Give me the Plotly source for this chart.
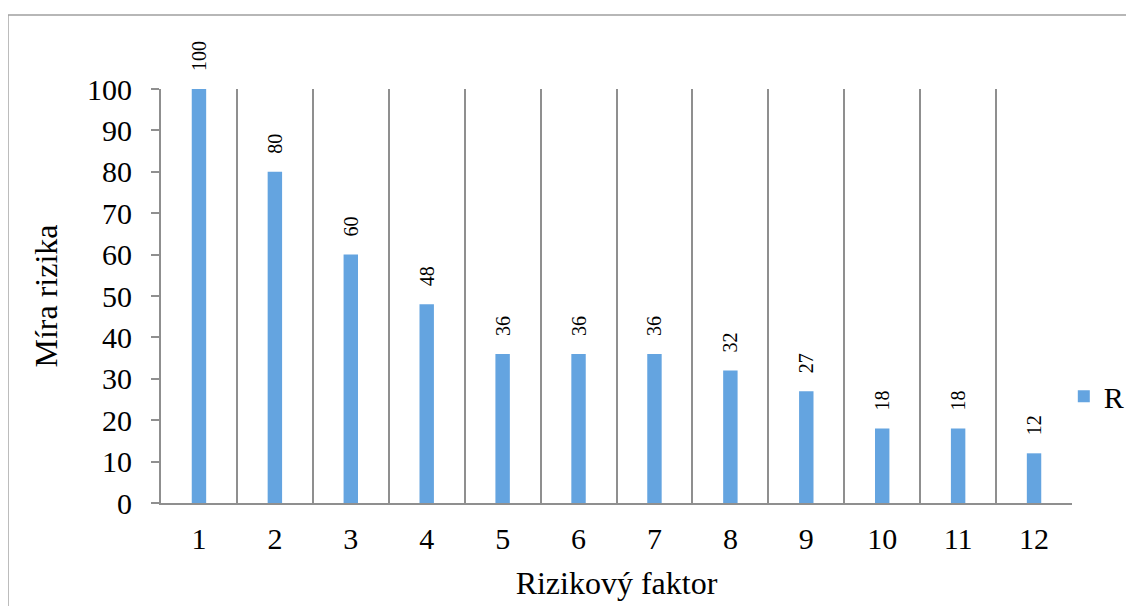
import plotly.graph_objects as go

categories = [1, 2, 3, 4, 5, 6, 7, 8, 9, 10, 11, 12]
values_R = [100, 80, 60, 48, 36, 36, 36, 32, 27, 18, 18, 12]
y_ticks = [0, 10, 20, 30, 40, 50, 60, 70, 80, 90, 100]
boundaries = [c - 0.5 for c in categories] + [categories[-1] + 0.5]

FONT = "Liberation Serif, Times New Roman, serif"
GRID = "#8f8f8f"
FS = 30
FT = 32

fig = go.Figure()
fig.add_trace(go.Bar(
    x=categories, y=values_R, name="R",
    marker=dict(color="#64A4E0", line=dict(width=0)),
    width=0.19,
    text=["\u00a0\u00a0\u00a0" + str(v) for v in values_R],
    textposition="outside", textangle=-90, constraintext="none",
    textfont=dict(family=FONT, size=20, color="black"),
    cliponaxis=False,
))
# invisible trace on overlay axis for category-boundary gridlines
fig.add_trace(go.Scatter(x=boundaries, y=[0]*len(boundaries), xaxis="x2",
                         mode="markers", marker=dict(opacity=0), showlegend=False,
                         hoverinfo="skip"))

rng = [0.5, 12.5]
fig.update_layout(
    width=1126, height=598,
    margin=dict(l=153, r=62, t=81, b=103, autoexpand=False),
    paper_bgcolor="white", plot_bgcolor="white",
    font=dict(family=FONT, color="black"),
    showlegend=True,
    legend=dict(x=0.991, y=0.258, xanchor="left", yanchor="middle",
                font=dict(family=FONT, size=FS), bgcolor="rgba(0,0,0,0)",
                itemwidth=30, tracegroupgap=0),
    xaxis=dict(range=rng, tickvals=categories, ticktext=[str(c) for c in categories],
               showgrid=False, showline=True, linecolor=GRID, linewidth=2,
               ticks="", tickfont=dict(size=FS), zeroline=False, ticklabelstandoff=8,
               title=dict(text="Rizikový faktor", font=dict(size=FT), standoff=18)),
    xaxis2=dict(range=rng, overlaying="x", tickvals=boundaries, showticklabels=False,
                showgrid=True, gridcolor=GRID, gridwidth=2, zeroline=False,
                showline=False, ticks=""),
    yaxis=dict(range=[0, 100], tickvals=y_ticks, showgrid=False, showline=True,
               linecolor=GRID, linewidth=2, ticks="outside", ticklen=8,
               tickcolor=GRID, tickwidth=2, tickfont=dict(size=FS), zeroline=False,
               ticklabelstandoff=13,
               title=dict(text="Míra rizika", font=dict(size=FT), standoff=20)),
    shapes=[dict(type="rect", xref="paper", yref="paper",
                 x0=-0.168, x1=1.2, y0=-0.3, y1=1.179,
                 line=dict(color="#a0a0a0", width=1.5), layer="below")],
)

fig.write_html("out.html")
